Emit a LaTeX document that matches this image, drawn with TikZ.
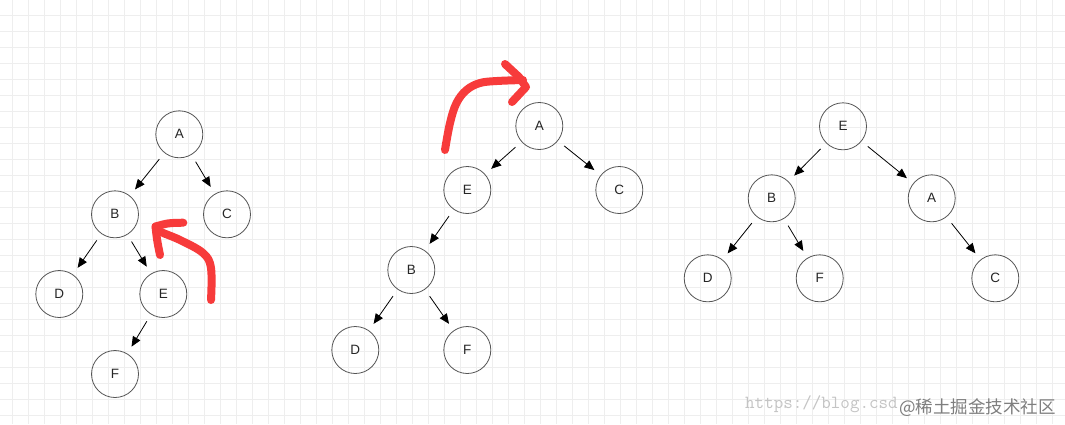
\documentclass[tikz,border=0pt]{standalone}
\usepackage{fontspec}
\setmainfont{Liberation Sans}
\newfontfamily\cjk{Noto Sans CJK SC}
\usetikzlibrary{arrows.meta}
\definecolor{gridc}{HTML}{EEEEEE}
\definecolor{circc}{HTML}{555555}
\definecolor{redc}{HTML}{F73B3B}
\definecolor{urlc}{HTML}{C4C4C4}
\definecolor{wmc}{HTML}{7E7E7E}
\tikzset{
  tnode/.style={circle, draw=circc, line width=0.8pt, minimum size=47pt, inner sep=0pt,
    font=\fontsize{13.5}{13.5}\selectfont, text=black!85},
  arr/.style={line width=0.8pt, shorten <=8pt, shorten >=8pt,
    -{Triangle[length=10pt,width=8.5pt]}},
  redstroke/.style={draw=redc, line width=8pt, line cap=round, line join=round}
}
\begin{document}
\begin{tikzpicture}[x=1pt,y=-1pt]
\useasboundingbox (0,0) rectangle (1065,424);
\fill[white] (0,0) rectangle (1065,424);
% grid
\foreach \k in {0,...,66} {\draw[gridc, line width=1pt] (12.5+16*\k,0) -- (12.5+16*\k,424);}
\foreach \k in {0,...,25} {\draw[gridc, line width=1pt] (0,15+16*\k) -- (1065,15+16*\k);}

% tree 1
\node[tnode] (a1) at (179.3,134.3) {A};
\node[tnode] (b1) at (115,214.3) {B};
\node[tnode] (c1) at (227,214.3) {C};
\node[tnode] (d1) at (59.3,294) {D};
\node[tnode] (e1) at (163.3,294) {E};
\node[tnode] (f1) at (115,374) {F};
\draw[arr] (a1) -- (b1);
\draw[arr] (a1) -- (c1);
\draw[arr] (b1) -- (d1);
\draw[arr] (b1) -- (e1);
\draw[arr] (e1) -- (f1);

% red arrow 1
\draw[redstroke] plot[smooth, tension=0.6] coordinates {(211,300) (211,268) (203,253) (180,240) (160,231.5) (155.5,226.5)};
\draw[redstroke] (160,255) .. controls (157,240) .. (155.5,226.5) .. controls (168,223) .. (183.3,222.7);

% tree 2
\node[tnode] (a2) at (539.3,126) {A};
\node[tnode] (e2) at (467.3,190) {E};
\node[tnode] (c2) at (619.3,190) {C};
\node[tnode] (b2) at (411.3,270) {B};
\node[tnode] (d2) at (355.3,350) {D};
\node[tnode] (f2) at (467.3,350) {F};
\draw[arr] (a2) -- (e2);
\draw[arr] (a2) -- (c2);
\draw[arr] (e2) -- (b2);
\draw[arr] (b2) -- (d2);
\draw[arr] (b2) -- (f2);

% red arrow 2
\draw[redstroke] plot[smooth, tension=0.6] coordinates {(445,150) (450,123) (456.5,103) (466.5,90) (480,83) (497,81) (523,80)};
\draw[redstroke] (505,64) -- (519,77) -- (526,87) -- (512,102);

% tree 3
\node[tnode] (e3) at (843,126.3) {E};
\node[tnode] (b3) at (771.7,198.3) {B};
\node[tnode] (a3) at (931.7,198.3) {A};
\node[tnode] (d3) at (707.7,278.3) {D};
\node[tnode] (f3) at (819.7,278.3) {F};
\node[tnode] (c3) at (995.3,278.3) {C};
\draw[arr] (e3) -- (b3);
\draw[arr] (e3) -- (a3);
\draw[arr] (b3) -- (d3);
\draw[arr] (b3) -- (f3);
\draw[arr] (a3) -- (c3);

% watermark
\node[anchor=base west, inner sep=0pt, text=urlc, font=\ttfamily\fontsize{18.5}{18.5}\selectfont] (url) at (745,408.3) {https://blog.csd};
\node[anchor=base west, inner sep=0pt, text=wmc, font=\cjk\fontsize{17.5}{17.5}\selectfont] (wm) at (899,413) {@稀土掘金技术社区};
\end{tikzpicture}
\end{document}
